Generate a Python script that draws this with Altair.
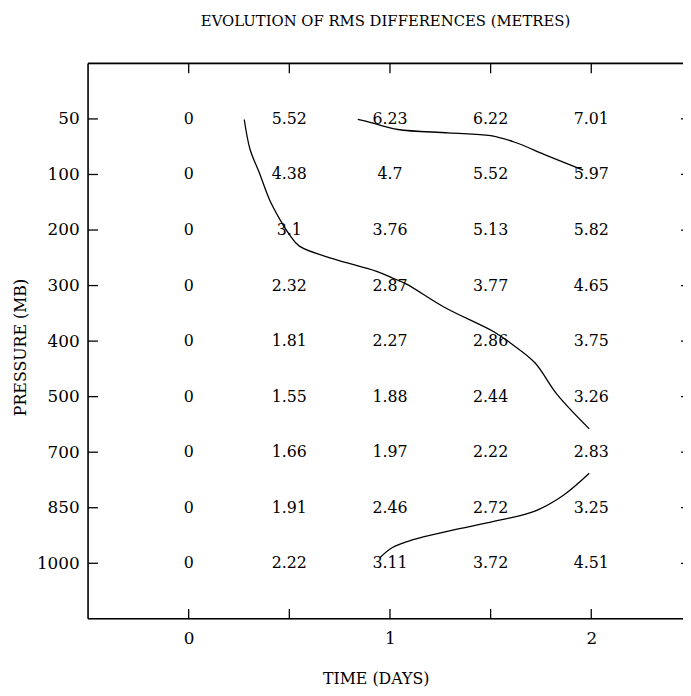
import altair as alt
import pandas as pd

# ---- data ----
levels = ["50", "100", "200", "300", "400", "500", "700", "850", "1000"]
days = [0, 0.5, 1, 1.5, 2]
rms = [
    ["0", "5.52", "6.23", "6.22", "7.01"],
    ["0", "4.38", "4.7", "5.52", "5.97"],
    ["0", "3.1", "3.76", "5.13", "5.82"],
    ["0", "2.32", "2.87", "3.77", "4.65"],
    ["0", "1.81", "2.27", "2.86", "3.75"],
    ["0", "1.55", "1.88", "2.44", "3.26"],
    ["0", "1.66", "1.97", "2.22", "2.83"],
    ["0", "1.91", "2.46", "2.72", "3.25"],
    ["0", "2.22", "3.11", "3.72", "4.51"],
]

# contour curves (x in days, y in level index 1..9)
curveA_x = [0.276, 0.305, 0.35, 0.40, 0.45, 0.50, 0.55, 0.72, 0.93, 1.01, 1.08, 1.27, 1.52, 1.60, 1.72, 1.83, 1.99]
curveA_y = [1.01, 1.55, 1.96, 2.44, 2.79, 3.08, 3.29, 3.52, 3.74, 3.86, 3.97, 4.39, 4.84, 5.04, 5.39, 5.96, 6.58]
curveB_x = [1.99, 1.86, 1.72, 1.55, 1.29, 1.11, 1.01, 0.95]
curveB_y = [7.38, 7.78, 8.06, 8.22, 8.42, 8.58, 8.72, 8.90]
curveC_x = [0.84, 0.91, 1.04, 1.29, 1.50, 1.62, 1.78, 1.96]
curveC_y = [1.01, 1.07, 1.19, 1.25, 1.30, 1.42, 1.66, 1.92]

# ---- layout ----
W, H = 602, 562
XMIN = -0.5
XMAX = -0.5 + 3.0 * W / 611.0
FONT = "DejaVu Serif"

cells = pd.DataFrame(
    [{"d": d, "idx": i + 1, "label": rms[i][j]} for i in range(len(levels)) for j, d in enumerate(days)]
)
curves = pd.DataFrame(
    [{"c": "A", "o": k, "d": x, "idx": y} for k, (x, y) in enumerate(zip(curveA_x, curveA_y))]
    + [{"c": "B", "o": k, "d": x, "idx": y} for k, (x, y) in enumerate(zip(curveB_x, curveB_y))]
    + [{"c": "C", "o": k, "d": x, "idx": y} for k, (x, y) in enumerate(zip(curveC_x, curveC_y))]
)
lev_df = pd.DataFrame({"idx": list(range(1, len(levels) + 1))})
day_df = pd.DataFrame({"d": days})

label_expr = "[''," + ",".join("'%s'" % l for l in levels) + ",''][datum.value]"

xscale = alt.Scale(domain=[XMIN, XMAX], nice=False, zero=False)
yscale = alt.Scale(domain=[0, 10], reverse=True, nice=False, zero=False)

xaxis = alt.Axis(
    values=days, labelExpr="datum.value % 1 === 0 ? format(datum.value, 'd') : ''",
    ticks=False, domain=False, grid=False, labelPadding=12,
    labelFont=FONT, labelFontSize=17, labelColor="black",
    title="TIME (DAYS)", titleFont=FONT, titleFontSize=16, titleFontWeight="normal",
    titleColor="black", titleX=291, titleY=60, titleBaseline="middle", titleAnchor="middle",
)
yaxis = alt.Axis(
    values=list(range(1, len(levels) + 1)), labelExpr=label_expr,
    ticks=False, domain=False, grid=False, labelPadding=9,
    labelFont=FONT, labelFontSize=17, labelColor="black",
    title="PRESSURE (MB)", titleFont=FONT, titleFontSize=16, titleFontWeight="normal",
    titleColor="black", titleX=-68, titleY=287, titleAngle=270, titleBaseline="middle", titleAnchor="middle",
)

text = alt.Chart(cells).mark_text(font=FONT, fontSize=16, color="black").encode(
    x=alt.X("d:Q", scale=xscale, axis=xaxis),
    y=alt.Y("idx:Q", scale=yscale, axis=yaxis),
    text="label:N",
)

lines = alt.Chart(curves).mark_line(color="black", strokeWidth=1.3, interpolate="catmull-rom").encode(
    x=alt.X("d:Q", scale=xscale),
    y=alt.Y("idx:Q", scale=yscale),
    detail="c:N",
    order="o:Q",
)

one = alt.Data(values=[{}])
frame_left = alt.Chart(one).mark_rule(color="black", strokeWidth=1.6).encode(
    x=alt.value(0), y=alt.value(0), y2=alt.value(H))
frame_top = alt.Chart(one).mark_rule(color="black", strokeWidth=1.6).encode(
    x=alt.value(0), x2=alt.value(W + 20), y=alt.value(0))
frame_bottom = alt.Chart(one).mark_rule(color="black", strokeWidth=1.6).encode(
    x=alt.value(0), x2=alt.value(W + 20), y=alt.value(H))

tick_left = alt.Chart(lev_df).mark_rule(color="black", strokeWidth=1.3).encode(
    y=alt.Y("idx:Q", scale=yscale), x=alt.value(0), x2=alt.value(10))
tick_right = alt.Chart(lev_df).mark_rule(color="black", strokeWidth=1.3).encode(
    y=alt.Y("idx:Q", scale=yscale), x=alt.value(W - 2), x2=alt.value(W + 10))
tick_top = alt.Chart(day_df).mark_rule(color="black", strokeWidth=1.3).encode(
    x=alt.X("d:Q", scale=xscale), y=alt.value(0), y2=alt.value(10))
tick_bottom = alt.Chart(day_df).mark_rule(color="black", strokeWidth=1.3).encode(
    x=alt.X("d:Q", scale=xscale), y=alt.value(H - 10), y2=alt.value(H))

chart = alt.layer(
    text, lines, frame_left, frame_top, frame_bottom,
    tick_left, tick_right, tick_top, tick_bottom,
).properties(
    width=W, height=H,
    title=alt.TitleParams(
        "EVOLUTION OF RMS DIFFERENCES (METRES)", font=FONT, fontSize=15,
        fontWeight="normal", color="black", anchor="middle", baseline="alphabetic", offset=22,
    ),
    autosize=alt.AutoSizeParams(type="none"),
    padding={"left": 81, "top": 52, "right": 0, "bottom": 70},
).configure_view(stroke=None).configure(background="white")

chart.save("out.html", embed_options={"renderer": "svg", "actions": False})
